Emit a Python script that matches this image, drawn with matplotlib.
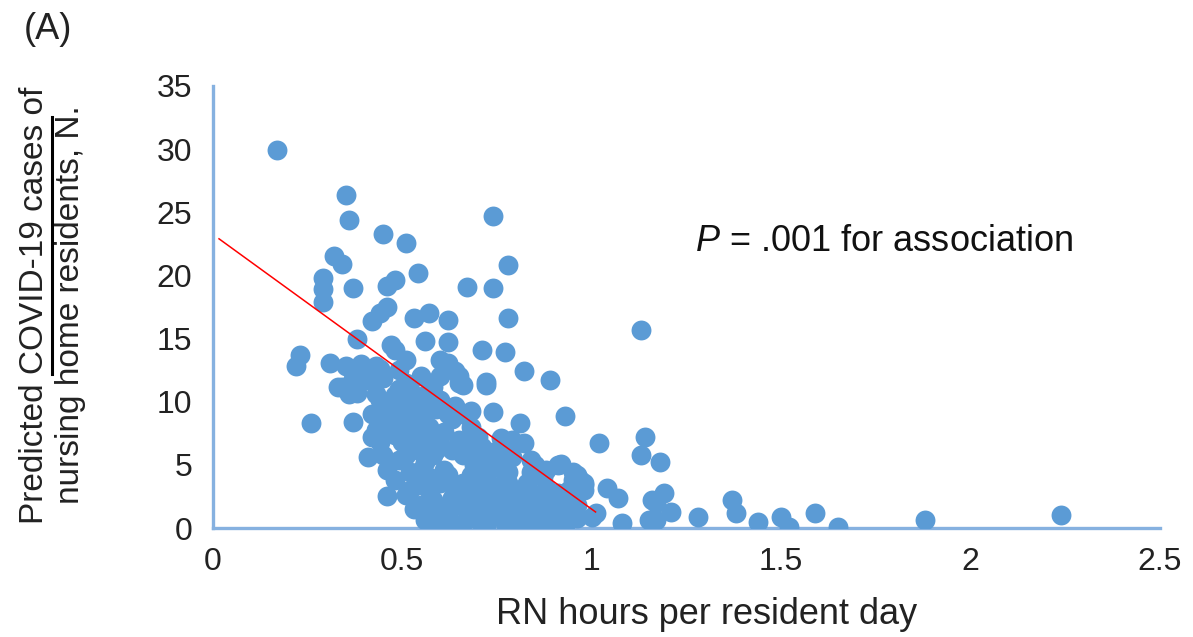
import matplotlib.pyplot as plt
from matplotlib.lines import Line2D

plt.rcParams['font.family'] = ['Liberation Sans', 'DejaVu Sans']
plt.rcParams['mathtext.fontset'] = 'custom'
plt.rcParams['mathtext.it'] = 'Liberation Sans:italic'
plt.rcParams['mathtext.rm'] = 'Liberation Sans'

# RN hours per resident day, predicted cases
rn_hours = [
    0.17, 0.35, 0.36, 0.45, 0.51, 0.74, 0.78, 0.54, 0.32, 0.34,
    0.29, 0.29, 0.29, 0.37, 0.46, 0.48, 0.67, 0.74, 0.78, 0.44,
    0.46, 0.42, 0.53, 0.57, 0.62, 1.13, 0.38, 0.56, 0.62, 0.71,
    0.77, 0.82, 0.89, 0.23, 0.22, 0.31,
    0.35, 0.39, 0.43, 0.37, 0.41, 0.33, 0.36, 0.45,
    0.48, 0.51, 0.49, 0.51, 0.58, 0.47, 0.62, 0.65, 0.72, 0.60,
    0.64, 0.66,
    0.44, 0.48, 0.52, 0.56, 0.60, 0.64, 0.47, 0.51, 0.55, 0.63,
    0.43, 0.48, 0.53, 0.60, 0.65, 0.45, 0.49, 0.55, 0.61, 0.48,
    0.52, 0.57, 0.64, 0.55, 0.60, 0.65, 0.56, 0.61, 0.41, 0.26,
    0.37, 0.46, 0.51, 0.56, 0.62, 0.34, 0.38,
    0.65, 0.72, 0.68, 0.74, 0.81, 0.76, 0.82, 0.79, 0.77, 0.68,
    0.70, 0.66, 0.68, 0.66, 0.69, 0.92, 0.95, 0.98, 0.84, 0.84,
    0.78, 0.76, 0.81, 0.86, 0.74, 0.80, 0.85, 0.90, 0.76, 0.81,
    0.88, 0.92, 0.70, 0.73, 0.77, 0.82, 0.91, 0.96,
    0.93, 1.02, 1.14, 1.13, 1.18, 0.97, 0.98, 0.91, 1.04, 1.07,
    1.00, 1.08, 0.91, 1.17, 1.19, 1.17, 1.21, 1.28, 1.37, 1.38,
    1.44, 1.50, 1.52, 1.59, 1.65, 1.88, 2.24,
    1.01, 1.16, 1.15, 0.92, 0.95, 0.98, 0.94,
    0.53, 0.58, 0.63, 0.67, 0.71, 0.72, 0.75, 0.79, 0.87, 0.88,
    0.90, 0.86, 0.89, 0.94, 0.96, 0.79, 0.83, 0.72, 0.66, 0.58,
    0.54, 0.50, 0.47, 0.52, 0.57, 0.61, 0.66, 0.59, 0.53, 0.49,
    0.55, 0.60, 0.57, 0.52, 0.46, 0.44, 0.42, 0.70, 0.74, 0.73,
    0.77, 0.69, 0.54, 0.60,
    0.43, 0.46, 0.50, 0.45, 0.49, 0.42, 0.53, 0.56, 0.58, 0.55,
    0.51, 0.59, 0.56, 0.62, 0.63, 0.67, 0.71, 0.69, 0.72, 0.76,
    0.78, 0.66, 0.62, 0.70, 0.58, 0.62, 0.64, 0.68, 0.70, 0.74,
    0.78, 0.80, 0.84, 0.86, 0.88, 0.93, 0.96, 0.94, 0.83, 0.85,
    0.88, 0.82, 0.40, 0.44,
]
cases = [
    29.9, 26.4, 24.4, 23.3, 22.6, 24.7, 20.8, 20.2, 21.5, 20.9,
    19.8, 18.9, 17.9, 19.0, 19.2, 19.6, 19.1, 19.0, 16.6, 17.0,
    17.5, 16.4, 16.6, 17.0, 16.5, 15.7, 15.0, 14.8, 14.7, 14.1,
    13.9, 12.4, 11.7, 13.7, 12.8, 13.1,
    12.8, 13.0, 12.8, 11.8, 11.7, 11.2, 10.6, 11.9,
    14.1, 13.3, 12.5, 11.5, 11.2, 14.5, 13.1, 12.0, 11.6, 13.3,
    12.4, 11.3,
    10.1, 10.5, 10.9, 10.5, 10.1, 9.7, 9.3, 8.9, 8.6, 8.6,
    7.8, 7.4, 7.0, 6.6, 7.0, 5.8, 5.4, 4.6, 4.6, 3.8,
    3.0, 3.0, 3.4, 1.8, 1.4, 1.8, 0.6, 0.6, 5.6, 8.3,
    8.4, 2.5, 2.6, 1.2, 0.9, 11.2, 10.7,
    11.5, 11.3, 9.3, 9.2, 8.3, 7.1, 6.7, 7.0, 6.2, 8.0,
    7.2, 5.8, 4.2, 2.6, 1.4, 5.1, 4.4, 3.6, 5.4, 4.4,
    4.4, 3.4, 3.0, 2.6, 2.2, 1.8, 1.4, 1.8, 1.0, 0.6,
    0.6, 0.2, 0.6, 1.8, 0.4, 0.1, 5.0, 4.2,
    8.9, 6.7, 7.2, 5.8, 5.2, 3.8, 3.0, 2.8, 3.2, 2.4,
    0.9, 0.4, 0.4, 0.6, 2.8, 2.0, 1.3, 0.9, 2.2, 1.2,
    0.5, 0.9, 0.1, 1.2, 0.1, 0.6, 1.0,
    1.2, 2.2, 0.6, 0.6, 3.8, 3.4, 3.0,
    1.5, 2.2, 2.4, 3.2, 2.8, 4.0, 4.8, 5.6, 4.0, 3.2,
    2.4, 0.2, 1.2, 1.4, 0.8, 2.6, 1.0, 0.2, 0.4, 5.8,
    6.2, 6.8, 8.0, 7.8, 8.0, 7.6, 9.0, 9.4, 9.8, 11.0,
    12.0, 12.0, 4.0, 4.4, 4.6, 6.8, 9.0, 5.4, 6.0, 3.0,
    2.0, 2.2, 3.4, 3.6,
    10.6, 9.9, 9.6, 8.6, 8.5, 7.2, 8.4, 9.2, 7.0, 7.4,
    5.8, 6.2, 5.2, 9.0, 6.2, 6.6, 6.4, 5.0, 5.0, 5.4,
    3.6, 3.6, 4.2, 3.6, 0.2, 1.6, 0.2, 1.0, 1.6, 1.0,
    0.2, 1.2, 0.4, 1.6, 2.0, 0.2, 1.8, 2.4, 3.6, 5.0,
    4.6, 2.2, 12.2, 12.6,
]

# fitted line end points
fit_x = [0.016, 1.01]
fit_y = [22.9, 1.27]

fig = plt.figure(figsize=(11.93, 6.37), dpi=100)
ax = fig.add_axes([0.1785, 0.1711, 0.7938, 0.6939])

ax.scatter(rn_hours, cases, s=205, color='#5B9BD5', linewidths=0, zorder=2)
ax.plot(fit_x, fit_y, color='#FF0000', lw=1.1, zorder=3)

ax.set_xlim(0, 2.5)
ax.set_ylim(0, 35)
ax.set_xticks([0, 0.5, 1, 1.5, 2, 2.5])
ax.set_xticklabels(['0', '0.5', '1', '1.5', '2', '2.5'])
ax.set_yticks(range(0, 36, 5))

for side in ['top', 'right']:
    ax.spines[side].set_visible(False)
for side in ['left', 'bottom']:
    ax.spines[side].set_color('#86B1E0')
    ax.spines[side].set_linewidth(2.4)
ax.spines['left'].set_zorder(1)
ax.spines['bottom'].set_zorder(1)
ax.tick_params(axis='both', length=0, labelsize=23, colors='#222222')
ax.tick_params(axis='y', pad=15)
ax.tick_params(axis='x', pad=14)

ax.text(1.272, 21.9, r'$P$ = .001 for association', fontsize=26, color='#111111')

fig.text(0.592, 0.036, 'RN hours per resident day', fontsize=26,
         ha='center', va='center', color='#222222')
fig.text(0.0293, 0.521, 'Predicted COVID-19 cases of', fontsize=24,
         rotation=90, ha='center', va='center', color='#222222')
fig.text(0.0587, 0.521, 'nursing home residents, N.', fontsize=24,
         rotation=90, ha='center', va='center', color='#222222')
# underline under "COVID-19 cases"
fig.add_artist(Line2D([0.0436, 0.0436], [0.413, 0.816], color='black', lw=2.2,
                      transform=fig.transFigure))
fig.text(0.040, 0.953, '(A)', fontsize=26, ha='center', va='center', color='#222222')

fig.savefig('out.png', dpi=100)
